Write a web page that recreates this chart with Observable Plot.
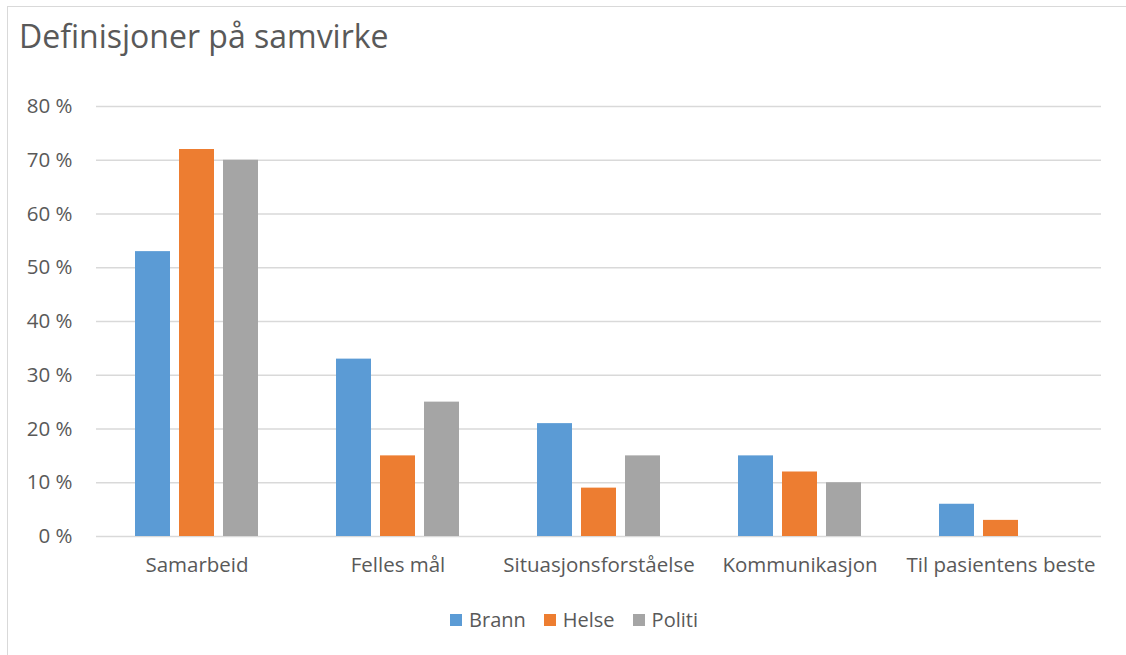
<!DOCTYPE html>
<html>
<head>
<meta charset="utf-8">
<script src="https://cdn.jsdelivr.net/npm/d3@7"></script>
<script src="https://cdn.jsdelivr.net/npm/@observablehq/plot@0.6"></script>
<style>
  html, body { margin: 0; padding: 0; background: #fff; }
  body { width: 1126px; height: 655px; position: relative; overflow: hidden; font-family: "Open Sans", sans-serif; color: #595959; }
  #frame { position: absolute; left: 7px; top: 6px; width: 1130px; height: 660px; border-left: 1px solid #d9d9d9; border-top: 1px solid #d9d9d9; }
  #title { position: absolute; left: 19px; top: 12px; font-size: 32px; line-height: 48px; font-weight: 400; color: #595959; margin: 0; white-space: nowrap; }
  #chart { position: absolute; left: 0; top: 90px; }
  #legend { position: absolute; top: 606px; left: 0; width: 1148px; display: flex; justify-content: center; gap: 18px; font-size: 20px; color: #595959; }
  .item { display: flex; align-items: center; gap: 7px; }
  .sw { width: 12px; height: 12px; display: inline-block; }
</style>
</head>
<body>
<div id="frame"></div>
<h1 id="title">Definisjoner på samvirke</h1>
<div id="chart"></div>
<div id="legend"></div>
<script>
const categories = ["Samarbeid", "Felles mål", "Situasjonsforståelse", "Kommunikasjon", "Til pasientens beste"];
const series = ["Brann", "Helse", "Politi"];
const colors = ["#5B9BD5", "#ED7D31", "#A5A5A5"];
const brann = [53, 33, 21, 15, 6];
const helse = [72, 15, 9, 12, 3];
const politi = [70, 25, 15, 10, null];
const yTicks = [0, 10, 20, 30, 40, 50, 60, 70, 80];

const valuesBySeries = [brann, helse, politi];
const data = [];
categories.forEach((c, i) => {
  series.forEach((s, j) => {
    const v = valuesBySeries[j][i];
    if (v != null) data.push({category: c, series: s, value: v});
  });
});

const plot = Plot.plot({
  width: 1126,
  height: 490,
  marginLeft: 95,
  marginRight: 24,
  marginTop: 16,
  marginBottom: 44,
  style: { fontFamily: "'Open Sans', sans-serif", fontSize: "20.5px", color: "#595959", background: "transparent" },
  fx: { domain: categories, padding: 0, label: null, axis: "bottom", tickSize: 0, tickPadding: 21 },
  x: { domain: series, paddingInner: 0.2, paddingOuter: 0.88, axis: null },
  y: { domain: [0, 80], ticks: yTicks, tickFormat: d => d + " %", tickSize: 0, tickPadding: 24, label: null },
  color: { domain: series, range: colors },
  marks: [
    Plot.ruleY(yTicks, { stroke: "#d9d9d9", strokeWidth: 1.5 }),
    Plot.barY(data, { fx: "category", x: "series", y: "value", fill: "series" })
  ]
});
document.getElementById("chart").appendChild(plot);

const legend = document.getElementById("legend");
series.forEach((s, j) => {
  const item = document.createElement("div");
  item.className = "item";
  const sw = document.createElement("span");
  sw.className = "sw";
  sw.style.background = colors[j];
  const t = document.createElement("span");
  t.textContent = s;
  item.appendChild(sw);
  item.appendChild(t);
  legend.appendChild(item);
});
</script>
</body>
</html>
